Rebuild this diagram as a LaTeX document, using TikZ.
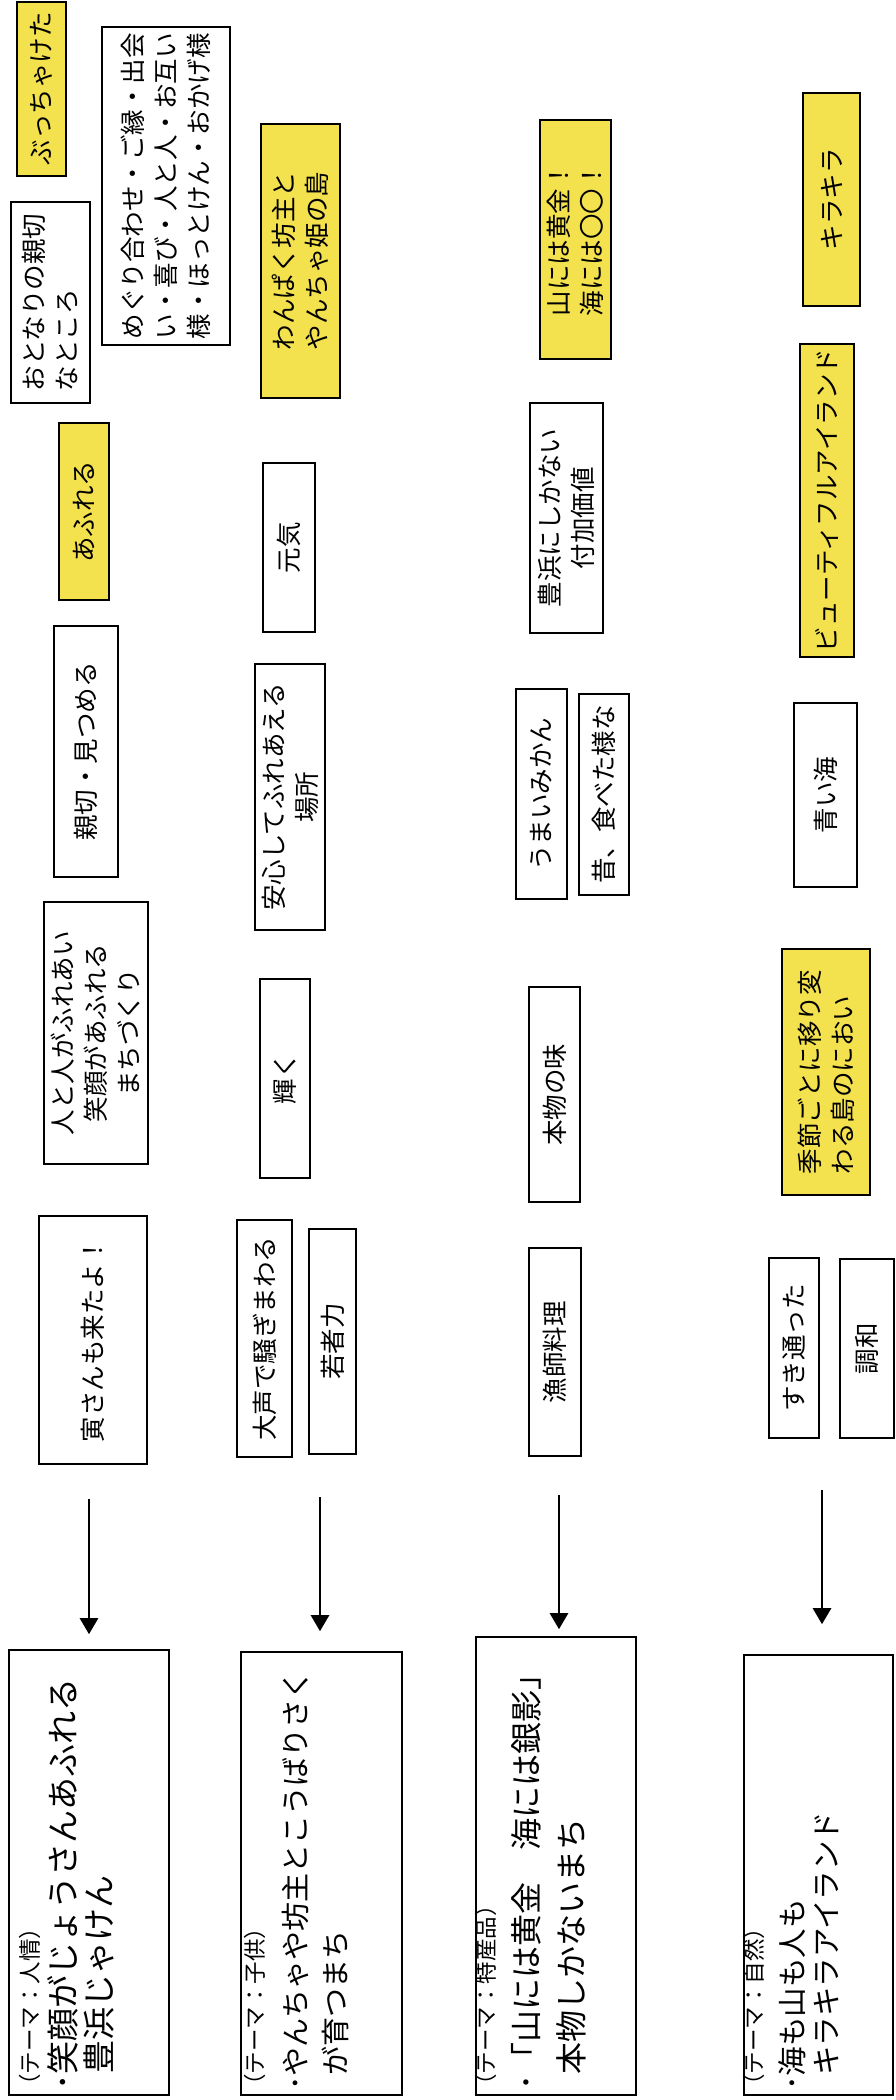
\documentclass[tikz,border=0pt]{standalone}
\usepackage{fontspec}
\setmainfont{Noto Sans CJK JP}
\usetikzlibrary{arrows.meta}
\definecolor{hotyellow}{RGB}{244,225,78}
\tikzset{
  box/.style={draw, line width=1.6pt, rotate=90, inner sep=0pt, align=center,
    font=\fontsize{25.5}{33}\selectfont},
  hot/.style={box, fill=hotyellow},
  theme/.style={draw, line width=1.6pt, rotate=90, inner sep=0pt},
  themehead/.style={rotate=90, anchor=west, inner sep=0pt,
    font=\fontsize{22.5}{26}\selectfont},
  themeline/.style={rotate=90, anchor=west, inner sep=0pt},
  arr/.style={-{Triangle[length=16pt,width=18pt]}, line width=2.6pt},
}
\begin{document}
\begin{tikzpicture}[x=1pt,y=-1pt]
          \useasboundingbox (0,0) rectangle (895,2100);

          % ninjou
          \node[hot, minimum width=174pt, minimum height=49pt] (v1) at (41.5,89) {ぶっちゃけた};
          \node[box, align=left, minimum width=201pt, minimum height=79pt] (v2) at (50.5,302.5) {おとなりの親切\\なところ};
          \node[box, align=left, minimum width=318pt, minimum height=128pt] (v3) at (166,186) {めぐり合わせ・ご縁・出会\\い・喜び・人と人・お互い\\様・ほっとけん・おかげ様};
          \node[hot, minimum width=177pt, minimum height=50pt] (v4) at (84,511.5) {あふれる};
          \node[box, minimum width=251pt, minimum height=64pt] (v5) at (86,751.5) {親切・見つめる};
          \node[box, minimum width=262pt, minimum height=104pt] (v6) at (96,1033) {人と人がふれあい\\笑顔があふれる\\まちづくり};
          \node[box, minimum width=248pt, minimum height=108pt] (v7) at (93,1340) {寅さんも来たよ！};

          % kodomo
          \node[hot, minimum width=274pt, minimum height=79pt] (v8) at (300.5,261) {わんぱく坊主と\\やんちゃ姫の島};
          \node[box, minimum width=169pt, minimum height=52pt] (v9) at (289,547.5) {元気};
          \node[box, minimum width=266pt, minimum height=70pt] (v10) at (290,797) {安心してふれあえる\\場所};
          \node[box, minimum width=199pt, minimum height=50pt] (v11) at (285,1078.5) {輝く};
          \node[box, minimum width=237pt, minimum height=55pt] (v12) at (264.5,1338.5) {大声で騒ぎまわる};
          \node[box, minimum width=225pt, minimum height=47pt] (v13) at (332.5,1341.5) {若者力};

          % tokusanhin
          \node[hot, minimum width=239pt, minimum height=71pt] (v14) at (575.5,239.5) {山には黄金！\\海には〇〇！};
          \node[box, minimum width=230pt, minimum height=73pt] (v15) at (566.5,518) {豊浜にしかない\\付加価値};
          \node[box, minimum width=210pt, minimum height=51pt] (v16) at (541.5,794) {うまいみかん};
          \node[box, minimum width=201pt, minimum height=50pt] (v17) at (604,794.5) {昔、食べた様な};
          \node[box, minimum width=215pt, minimum height=51pt] (v18) at (554.5,1094.5) {本物の味};
          \node[box, minimum width=208pt, minimum height=52pt] (v19) at (555,1352) {漁師料理};

          % shizen
          \node[hot, minimum width=213pt, minimum height=57pt] (v20) at (831.5,199.5) {キラキラ};
          \node[hot, minimum width=313pt, minimum height=54pt] (v21) at (827,500.5) {ビューティフルアイランド};
          \node[box, minimum width=184pt, minimum height=63pt] (v22) at (825.5,795) {青い海};
          \node[hot, align=left, minimum width=246pt, minimum height=88pt] (v23) at (826,1072) {季節ごとに移り変\\わる島のにおい};
          \node[box, minimum width=180pt, minimum height=50pt] (v24) at (794,1348) {すき通った};
          \node[box, minimum width=179pt, minimum height=54pt] (v25) at (867,1348.5) {調和};

          % themes
          \node[theme, minimum width=445pt, minimum height=160pt] (t1) at (89,1872.5) {};
          \node[theme, minimum width=443pt, minimum height=161pt] (t2) at (321.5,1873.5) {};
          \node[theme, minimum width=458pt, minimum height=160pt] (t3) at (556,1866) {};
          \node[theme, minimum width=440pt, minimum height=149pt] (t4) at (818.5,1875) {};

          \node[themehead] (h1) at (30,2097) {（テーマ：人情）};
          \node[themeline, font=\fontsize{33}{39}\selectfont] (s1) at (63,2091) {･笑顔がじょうさんあふれる};
          \node[themeline, font=\fontsize{33}{39}\selectfont] (s1b) at (99,2074) {豊浜じゃけん};

          \node[themehead] (h2) at (255,2097) {（テーマ：子供）};
          \node[themeline, font=\fontsize{29}{39}\selectfont] (s2) at (295,2091) {･やんちゃや坊主とこうばりさく};
          \node[themeline, font=\fontsize{29}{39}\selectfont] (s2b) at (335,2076) {が育つまち};

          \node[themehead] (h3) at (486,2097) {（テーマ：特産品）};
          \node[themeline, font=\fontsize{32}{39}\selectfont] (s3) at (526.5,2091) {･「山には黄金　海には銀影」};
          \node[themeline, font=\fontsize{32}{39}\selectfont] (s3b) at (571,2075) {本物しかないまち};

          \node[themehead] (h4) at (754,2097) {（テーマ：自然）};
          \node[themeline, font=\fontsize{29.5}{39}\selectfont] (s4) at (792,2091) {･海も山も人も};
          \node[themeline, font=\fontsize{29.5}{39}\selectfont] (s4b) at (826.5,2076) {キラキラアイランド};

          \coordinate (c1) at (89,1499);
          \coordinate (c2) at (320,1497);
          \coordinate (c3) at (559,1495);
          \coordinate (c4) at (822,1490);
          \draw [arr, shorten >=15pt] (c1) -- (c1 |- t1.east);
          \draw [arr, shorten >=20pt] (c2) -- (c2 |- t2.east);
          \draw [arr, shorten >=7pt] (c3) -- (c3 |- t3.east);
          \draw [arr, shorten >=30pt] (c4) -- (c4 |- t4.east);

\end{tikzpicture}
\end{document}
